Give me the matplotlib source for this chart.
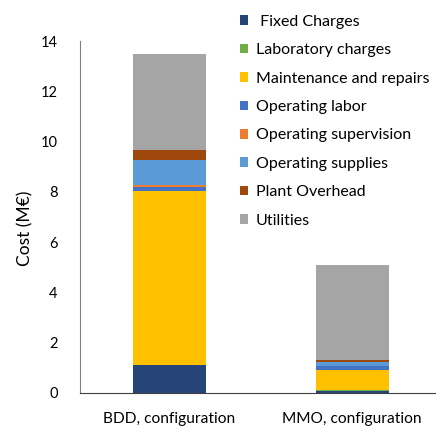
import numpy as np
import matplotlib
matplotlib.use("Agg")
import matplotlib.pyplot as plt

plt.rcParams['font.family'] = ['Lato', 'DejaVu Sans']

configs = ["BDD, configuration", "MMO, configuration"]
items = [" Fixed Charges", "Laboratory charges", "Maintenance and repairs",
         "Operating labor", "Operating supervision", "Operating supplies",
         "Plant Overhead", "Utilities"]
colors = ["#264478", "#70AD47", "#FFC000", "#4472C4",
          "#ED7D31", "#5B9BD5", "#9E480E", "#A5A5A5"]

# cost per item (M€), one value per configuration
fixed_charges = [1.11, 0.06]
lab_charges = [0.01, 0.06]
maintenance = [6.92, 0.80]
operating_labor = [0.14, 0.14]
supervision = [0.08, 0.02]
supplies = [0.99, 0.14]
overhead = [0.43, 0.08]
utilities = [3.80, 3.80]

series = [fixed_charges, lab_charges, maintenance, operating_labor,
          supervision, supplies, overhead, utilities]

fig = plt.figure(figsize=(4.36, 4.28), dpi=100)
ax = fig.add_axes([0.1835, 0.0818, 0.8165, 0.8222])

x = np.arange(len(configs))
bottom = np.zeros(len(configs))
handles = []
for name, vals, c in zip(items, series, colors):
    b = ax.bar(x, vals, 0.4, bottom=bottom, color=c, label=name)
    handles.append(b)
    bottom += np.array(vals)

ax.set_xlim(-0.49, 1.46)
ax.set_ylim(0, 14)
ax.set_yticks(range(0, 15, 2))
ax.set_xticks(x)
ax.set_xticklabels(configs, fontsize=11.2)
ax.tick_params(axis='y', length=0, pad=16, labelsize=10.5)
ax.tick_params(axis='x', length=0, pad=14)
ax.set_ylabel("Cost (M€)", fontsize=12.5)
ax.yaxis.set_label_coords(-0.13, 0.469)

for s in ["top", "right"]:
    ax.spines[s].set_visible(False)
ax.spines["left"].set_color("#7f7f7f")
ax.spines["bottom"].set_color("#404040")

fig.legend(handles=handles, loc="upper left", bbox_to_anchor=(0.535, 0.98),
           frameon=False, fontsize=11.5, handlelength=0.55, handleheight=0.55,
           handletextpad=0.45, labelspacing=0.9, borderaxespad=0)

fig.savefig("out.png", dpi=100)
